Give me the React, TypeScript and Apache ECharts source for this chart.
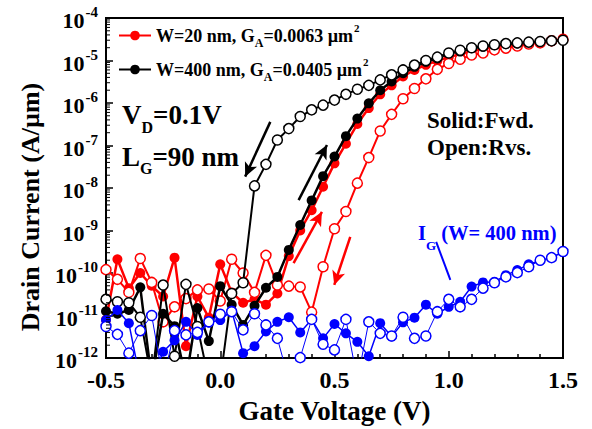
import React, { useEffect, useRef } from 'react';
import * as echarts from 'echarts';

const FONT = "'Liberation Serif', 'Times New Roman', serif";

// Gate voltage sweep points (V)
const gateVoltage = [
  -0.5, -0.45, -0.4, -0.35, -0.3, -0.25, -0.2, -0.15, -0.1, -0.05, 0.0,
  0.05, 0.1, 0.15, 0.2, 0.25, 0.3, 0.35, 0.4, 0.45, 0.5,
  0.55, 0.6, 0.65, 0.7, 0.75, 0.8, 0.85, 0.9, 0.95, 1.0,
  1.05, 1.1, 1.15, 1.2, 1.25, 1.3, 1.35, 1.4, 1.45, 1.5,
];

// Drain current (A/um), W = 20 nm, forward sweep (solid)
const idW20Fwd = [
  7.9e-12, 2.1e-10, 4.4e-11, 1.0e-10, 5.0e-11, 2.8e-11, 2.3e-10, 1.9e-12, 2.8e-11, 8.9e-12, 1.6e-10,
  3.5e-11, 2.0e-11, 2.4e-11, 1.8e-11, 3.3e-11, 2.5e-10, 1.0e-9, 3.0e-9, 1.07e-8, 3.8e-8,
  1.1e-7, 3.2e-7, 7.6e-7, 1.6e-6, 2.6e-6, 4.2e-6, 6.0e-6, 7.9e-6, 9.8e-6, 1.2e-5,
  1.4e-5, 1.66e-5, 1.86e-5, 2.1e-5, 2.24e-5, 2.45e-5, 2.57e-5, 2.75e-5, 2.9e-5, 3.0e-5,
];
// W = 20 nm, reverse sweep (open)
const idW20Rvs = [
  1.2e-10, 7.1e-11, 3.5e-11, 2.2e-10, 6.0e-11, 7.1e-12, 1.6e-11, 2.5e-11, 4.0e-11, 4.2e-11, 2.2e-11,
  2.1e-10, 1.0e-10, 3.5e-11, 2.6e-10, 5.2e-11, 4.9e-11, 4.7e-11, 1.2e-11, 1.4e-10, 1.1e-9,
  2.8e-9, 1.3e-8, 5.2e-8, 2.2e-7, 5.4e-7, 1.26e-6, 2.2e-6, 3.7e-6, 6.2e-6, 8.5e-6,
  1.07e-5, 1.35e-5, 1.5e-5, 1.78e-5, 1.95e-5, 2.2e-5, 2.45e-5, 2.6e-5, 2.9e-5, 3.15e-5,
];
// W = 400 nm, forward sweep (solid)
const idW400Fwd = [
  1.26e-11, 1.1e-11, 1.35e-11, 4.6e-11, 3e-13, 1.1e-11, 5.6e-12, 3e-13, 1.5e-11, 2.5e-12, 4.9e-11,
  1.8e-11, 6.0e-12, 1.7e-11, 4.5e-11, 8.1e-11, 3.5e-10, 1.35e-9, 5.1e-9, 1.9e-8, 5.5e-8,
  1.66e-7, 4.3e-7, 9.8e-7, 2.0e-6, 3.2e-6, 5.0e-6, 7.1e-6, 9.3e-6, 1.12e-5, 1.48e-5,
  1.62e-5, 1.95e-5, 2.1e-5, 2.3e-5, 2.45e-5, 2.5e-5, 2.7e-5, 2.75e-5, 2.9e-5, 3.0e-5,
];
// W = 400 nm, reverse sweep (open)
const idW400Rvs = [
  2.4e-11, 2.1e-11, 2.0e-11, 9.1e-12, 3e-13, 5.2e-11, 1.1e-12, 5.4e-11, 5.5e-12, 3e-13, 3e-13,
  3.3e-11, 5.9e-11, 1.12e-8, 3.6e-8, 1.35e-7, 2.5e-7, 4.8e-7, 6.9e-7, 8.9e-7, 1.17e-6,
  1.6e-6, 2.1e-6, 2.6e-6, 3.5e-6, 4.6e-6, 6.0e-6, 7.8e-6, 1.0e-5, 1.2e-5, 1.5e-5,
  1.74e-5, 2.0e-5, 2.2e-5, 2.35e-5, 2.5e-5, 2.6e-5, 2.7e-5, 2.8e-5, 2.9e-5, 3.0e-5,
];
// Gate current, W = 400 nm, forward (solid)
const igW400Fwd = [
  7.8e-12, 1.35e-11, 6.6e-12, 3e-13, 3e-13, 1.4e-12, 2.6e-12, 7.1e-12, 3.5e-12, 6.8e-12, 7.8e-12,
  1.3e-11, 1.3e-12, 1.9e-12, 4.2e-12, 7.1e-12, 9.1e-12, 4.0e-12, 8.1e-12, 2.9e-12, 6.3e-12,
  3.8e-12, 2.4e-12, 1.1e-12, 6.6e-12, 3.2e-12, 6.9e-12, 8.9e-12, 1.8e-11, 1.1e-11, 1.6e-11,
  2.1e-11, 4.8e-11, 6.0e-11, 6.2e-11, 8.9e-11, 1.17e-10, 1.6e-10, 1.95e-10, 2.3e-10, 3.1e-10,
];
// Gate current, W = 400 nm, reverse (open)
const igW400Rvs = [
  5.5e-12, 3.6e-12, 1.3e-12, 4.4e-12, 1.0e-11, 3e-13, 4.4e-12, 3.5e-12, 4.0e-12, 7.1e-12, 1.07e-11,
  1.23e-11, 4.6e-12, 1.1e-11, 6.0e-12, 2.9e-12, 3e-13, 1.02e-12, 8.1e-12, 2.1e-12, 1.55e-12,
  8.1e-12, 3e-13, 7.1e-12, 3.8e-12, 3.3e-12, 9.1e-12, 2.9e-12, 3.3e-12, 1.23e-11, 2.4e-11,
  1.6e-11, 2.4e-11, 4.4e-11, 5.9e-11, 8.1e-11, 1.02e-10, 1.4e-10, 2.0e-10, 2.3e-10, 3.2e-10,
];

// Annotation arrows in data units: [x1, y1, x2, y2] (arrow head at x2, y2)
const blackArrows = [
  [0.219, 3.6e-7, 0.109, 1.85e-8],
  [0.343, 5.2e-9, 0.467, 1.03e-7],
];
const redArrows = [
  [0.321, 1.7e-10, 0.445, 2.75e-9],
  [0.569, 7.1e-10, 0.499, 5.25e-11],
];
const blueLeader = [[0.945, 5.4e-10, 1.007, 6.9e-11]];

const yDecades = [-12, -11, -10, -9, -8, -7, -6, -5];
const minorMultipliers = [2, 3, 4, 5, 6, 7, 8, 9];
const X_MIN = -0.5;
const X_MAX = 1.5;

const RED = '#ff0000';
const BLACK = '#000000';
const BLUE = '#0000ff';

function toPairs(values: number[]) {
  return gateVoltage.map((v, i) => [v, values[i]]);
}

function arrowLines(list: number[][]) {
  return list.map((a) => [{ coord: [a[0], a[1]] }, { coord: [a[2], a[3]] }]);
}

function curve(name: string, values: number[], color: string, filled: boolean, width: number, z: number, extra: any = {}) {
  return {
    type: 'line',
    name,
    data: toPairs(values),
    symbol: 'circle',
    symbolSize: 10,
    showSymbol: true,
    clip: true,
    z,
    lineStyle: { color, width, type: 'solid' },
    itemStyle: filled ? { color } : { color: '#ffffff', borderColor: color, borderWidth: 1.5 },
    emphasis: { disabled: true },
    silent: true,
    ...extra,
  };
}

export default function App() {
  const ref = useRef<HTMLDivElement>(null);

  useEffect(() => {
    if (!ref.current) return;
    const chart = echarts.init(ref.current, null, { renderer: 'svg' });

    // minor log ticks (2..9 x 10^k) placed on the left axis
    const minorTicks: number[][] = [];
    for (const k of yDecades) {
      for (const m of minorMultipliers) minorTicks.push([X_MIN, m * Math.pow(10, k)]);
    }

    const legendRich = {
      m: { fontSize: 18, fontFamily: FONT, fontWeight: 'bold', color: '#000', padding: [5, 0, 0, 0], verticalAlign: 'top' },
      s: { fontSize: 12, fontFamily: FONT, fontWeight: 'bold', color: '#000', padding: [15, 0, 0, 0], verticalAlign: 'top' },
      p: { fontSize: 11, fontFamily: FONT, fontWeight: 'bold', color: '#000', padding: [0, 0, 0, 1], verticalAlign: 'top' },
    };

    const markArrow = (color: string, list: number[][], withHead = true) => ({
      silent: true,
      symbol: withHead ? ['none', 'arrow'] : ['none', 'none'],
      symbolSize: [10, 14],
      label: { show: false },
      emphasis: { disabled: true },
      lineStyle: { color, width: withHead ? 2.5 : 2, type: 'solid' },
      data: arrowLines(list),
    });

    const option: any = {
      animation: false,
      backgroundColor: '#ffffff',
      textStyle: { fontFamily: FONT },
      grid: {
        left: 106, right: 29, top: 18, bottom: 71,
        show: true, borderColor: '#000', borderWidth: 2, backgroundColor: 'transparent',
      },
      legend: {
        orient: 'vertical',
        left: 113,
        top: 17,
        itemWidth: 32,
        itemHeight: 12,
        itemGap: 7,
        data: ['W20', 'W400'],
        selectedMode: false,
        textStyle: { fontFamily: FONT, fontWeight: 'bold', fontSize: 18, color: '#000', rich: legendRich },
        formatter: (name: string) =>
          name === 'W20'
            ? '{m|W=20 nm, G}{s|A}{m|=0.0063 µm}{p|2}'
            : '{m|W=400 nm, G}{s|A}{m|=0.0405 µm}{p|2}',
      },
      xAxis: {
        type: 'value',
        min: X_MIN,
        max: X_MAX,
        interval: 0.5,
        position: 'bottom',
        name: 'Gate Voltage (V)',
        nameLocation: 'middle',
        nameGap: 39,
        nameTextStyle: { fontFamily: FONT, fontWeight: 'bold', fontSize: 27, color: '#000' },
        axisLine: { show: true, onZero: false, lineStyle: { color: '#000', width: 2 } },
        axisTick: { show: true, inside: true, length: 7, lineStyle: { color: '#000', width: 1.5 } },
        minorTick: { show: true, splitNumber: 5, length: 4, lineStyle: { color: '#000', width: 1.5 } },
        axisLabel: {
          margin: 10,
          fontFamily: FONT, fontWeight: 'bold', fontSize: 24, color: '#000',
          formatter: (v: number) => v.toFixed(1),
        },
        splitLine: { show: false },
        minorSplitLine: { show: false },
      },
      yAxis: {
        type: 'log',
        logBase: 10,
        min: 1e-12,
        max: 1e-4,
        position: 'left',
        name: 'Drain Current (A/µm)',
        nameLocation: 'middle',
        nameGap: 63,
        nameTextStyle: { fontFamily: FONT, fontWeight: 'bold', fontSize: 26, color: '#000', padding: [0, 38, 0, 0] },
        axisLine: { show: true, onZero: false, lineStyle: { color: '#000', width: 2 } },
        axisTick: { show: true, inside: true, length: 7, lineStyle: { color: '#000', width: 1.5 } },
        axisLabel: {
          margin: 8,
          formatter: (v: number) => `{b|10}{s|${Math.round(Math.log10(v))}}`,
          rich: {
            b: { fontSize: 22, fontFamily: FONT, fontWeight: 'bold', color: '#000', padding: [5, 0, 0, 0], verticalAlign: 'top' },
            s: { fontSize: 15, fontFamily: FONT, fontWeight: 'bold', color: '#000', padding: [0, 0, 0, 1], verticalAlign: 'top' },
          },
        },
        splitLine: { show: false },
      },
      graphic: [
        {
          type: 'text', x: 122, y: 101.5, silent: true,
          style: {
            text: '{m|V}{s|D}{m|=0.1V}', fill: '#000', align: 'left', verticalAlign: 'top',
            fontSize: 27, fontFamily: FONT, fontWeight: 'bold',
            rich: {
              m: { fontSize: 27, fontFamily: FONT, fontWeight: 'bold', verticalAlign: 'top' },
              s: { fontSize: 16, fontFamily: FONT, fontWeight: 'bold', verticalAlign: 'top', padding: [18, 0, 0, 0] },
            },
          },
        },
        {
          type: 'text', x: 122, y: 143, silent: true,
          style: {
            text: '{m|L}{s|G}{m|=90 nm}', fill: '#000', align: 'left', verticalAlign: 'top',
            fontSize: 27, fontFamily: FONT, fontWeight: 'bold',
            rich: {
              m: { fontSize: 27, fontFamily: FONT, fontWeight: 'bold', verticalAlign: 'top' },
              s: { fontSize: 16, fontFamily: FONT, fontWeight: 'bold', verticalAlign: 'top', padding: [17, 0, 0, 0] },
            },
          },
        },
        {
          type: 'text', x: 427, y: 120, silent: true,
          style: { text: 'Solid:Fwd.', fill: '#000', align: 'left', verticalAlign: 'middle', fontSize: 23, fontFamily: FONT, fontWeight: 'bold' },
        },
        {
          type: 'text', x: 427, y: 147, silent: true,
          style: { text: 'Open:Rvs.', fill: '#000', align: 'left', verticalAlign: 'middle', fontSize: 23, fontFamily: FONT, fontWeight: 'bold' },
        },
        {
          type: 'text', x: 418, y: 222, silent: true,
          style: {
            text: '{m|I}{s|G}{m| (W= 400 nm)}', fill: BLUE, align: 'left', verticalAlign: 'top',
            fontSize: 20.5, fontFamily: FONT, fontWeight: 'bold',
            rich: {
              m: { fontSize: 20.5, fontFamily: FONT, fontWeight: 'bold', verticalAlign: 'top', fill: BLUE },
              s: { fontSize: 13, fontFamily: FONT, fontWeight: 'bold', verticalAlign: 'top', padding: [17, 0, 0, 0], fill: BLUE },
            },
          },
        },
      ],
      series: [
        {
          type: 'custom',
          name: 'minor ticks',
          silent: true,
          clip: false,
          z: 10,
          data: minorTicks,
          renderItem: (_params: any, api: any) => {
            const p = api.coord([api.value(0), api.value(1)]);
            return {
              type: 'line',
              shape: { x1: p[0], y1: p[1], x2: p[0] + 4, y2: p[1] },
              style: { stroke: '#000', lineWidth: 1 },
            };
          },
        },
        curve('W20', idW20Fwd, RED, true, 2.5, 2, { markLine: markArrow(RED, redArrows) }),
        curve('W20 rvs', idW20Rvs, RED, false, 2, 3),
        curve('W400', idW400Fwd, BLACK, true, 2.5, 4, { markLine: markArrow(BLACK, blackArrows) }),
        curve('W400 rvs', idW400Rvs, BLACK, false, 2, 5),
        curve('IG fwd', igW400Fwd, BLUE, true, 1.5, 6, { markLine: markArrow(BLUE, blueLeader, false) }),
        curve('IG rvs', igW400Rvs, BLUE, false, 1, 7),
      ],
    };

    chart.setOption(option);
    return () => chart.dispose();
  }, []);

  return (
    <div
      ref={ref}
      style={{ position: 'fixed', left: 0, top: 0, width: 592, height: 429, background: '#fff' }}
    />
  );
}
